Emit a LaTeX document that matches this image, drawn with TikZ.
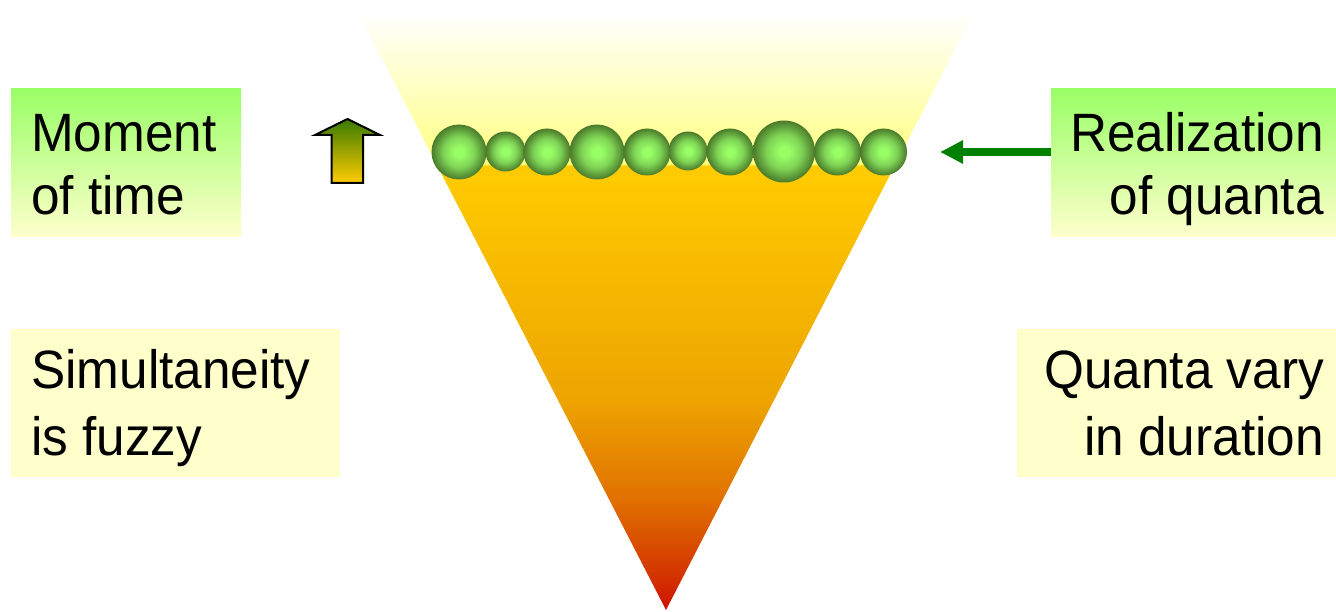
\documentclass[tikz,border=0pt]{standalone}
\usepackage{fontspec}
\setmainfont{Liberation Sans}[FakeStretch=0.95]
\usetikzlibrary{arrows.meta}
\definecolor{boxgreen}{HTML}{99FF66}
\definecolor{boxyellow}{HTML}{FFFFCC}
\definecolor{coneRed}{HTML}{CC1100}
\definecolor{coneRedOr}{HTML}{D33000}
\definecolor{coneOrange}{HTML}{E07000}
\definecolor{coneAmber}{HTML}{EDA400}
\definecolor{coneGold}{HTML}{FFCC00}
\definecolor{coneYel}{HTML}{FFFF80}
\definecolor{conePale}{HTML}{FFFFB8}
\definecolor{ballIn}{HTML}{99FF66}
\definecolor{ballMid}{HTML}{7FD456}
\definecolor{ballOut}{HTML}{4A7A2A}
\definecolor{arrowTop}{HTML}{3A7A00}
\definecolor{arrowGreen}{HTML}{008000}
\pgfdeclareverticalshading{conefill}{100bp}{color(0bp)=(coneRed); color(25bp)=(coneRed); color(27.5bp)=(coneRedOr); color(34bp)=(coneOrange); color(42.2bp)=(coneAmber); color(61.4bp)=(coneGold); color(61.6bp)=(coneYel); color(66.8bp)=(conePale); color(74bp)=(white); color(100bp)=(white)}
\pgfdeclareradialshading{quantfill}{\pgfpoint{0bp}{0bp}}{color(0bp)=(ballIn); color(4bp)=(ballIn); color(14bp)=(ballMid); color(25bp)=(ballOut); color(50bp)=(ballOut)}
\tikzset{
  lbl/.style={inner sep=0pt, text=black, font=\fontsize{54}{64}\selectfont},
  gbox/.style={rectangle, inner sep=0pt, top color=boxgreen, bottom color=boxyellow, draw=none},
  ybox/.style={rectangle, inner sep=0pt, fill=boxyellow, draw=none},
  quantum/.style={shading=quantfill},
  uparrow/.style={draw=black, line width=2pt, line join=miter, top color=arrowTop, bottom color=coneGold},
  ptr/.style={-{Triangle[length=23pt,width=22pt]}, line width=8pt, arrowGreen}
}
\begin{document}
\begin{tikzpicture}[x=1pt,y=-1pt]
\useasboundingbox (0,0) rectangle (1336,612);
% cone
\path[shading=conefill] (352,0) -- (980,0) -- (666,610) -- cycle;
% quanta
\shade[quantum] (459,152) circle[radius=27.5];
\shade[quantum] (505.5,151.5) circle[radius=20];
\shade[quantum] (547,152) circle[radius=23.5];
\shade[quantum] (597,152) circle[radius=27.5];
\shade[quantum] (647,152) circle[radius=23.5];
\shade[quantum] (688,151) circle[radius=19.5];
\shade[quantum] (730,152) circle[radius=23.5];
\shade[quantum] (784,151.5) circle[radius=31];
\shade[quantum] (837.5,152) circle[radius=23.5];
\shade[quantum] (883.5,152) circle[radius=23.5];
% up arrow
\path[uparrow] (347.5,119) -- (380,135) -- (363,135) -- (363,183) -- (331.5,183) -- (331.5,135) -- (315,135) -- cycle;
% boxes
\node[gbox, minimum width=230pt, minimum height=148pt] (b1) at (126,163) {};
\node[ybox, minimum width=329pt, minimum height=148pt] (b2) at (175.5,403) {};
\node[gbox, minimum width=285pt, minimum height=148pt] (b3) at (1193.5,163) {};
\node[ybox, minimum width=319pt, minimum height=148pt] (b4) at (1176.5,403) {};
% texts
\node[lbl, anchor=base west] (t1a) at (31,152) {Moment};
\node[lbl, anchor=base west] (t1b) at (31,215) {of time};
\node[lbl, anchor=base west] (t2a) at (31,388) {Simultaneity};
\node[lbl, anchor=base west] (t2b) at (31,455) {is fuzzy};
\node[lbl, anchor=base east] (t3a) at (1324,152) {Realization};
\node[lbl, anchor=base east] (t3b) at (1324,215) {of quanta};
\node[lbl, anchor=base east] (t4a) at (1324,388) {Quanta vary};
\node[lbl, anchor=base east] (t4b) at (1324,455) {in duration};
% pointer
\coordinate (tip) at (940,152);
\draw[ptr] (b3.west |- tip) -- (tip);
\end{tikzpicture}
\end{document}
